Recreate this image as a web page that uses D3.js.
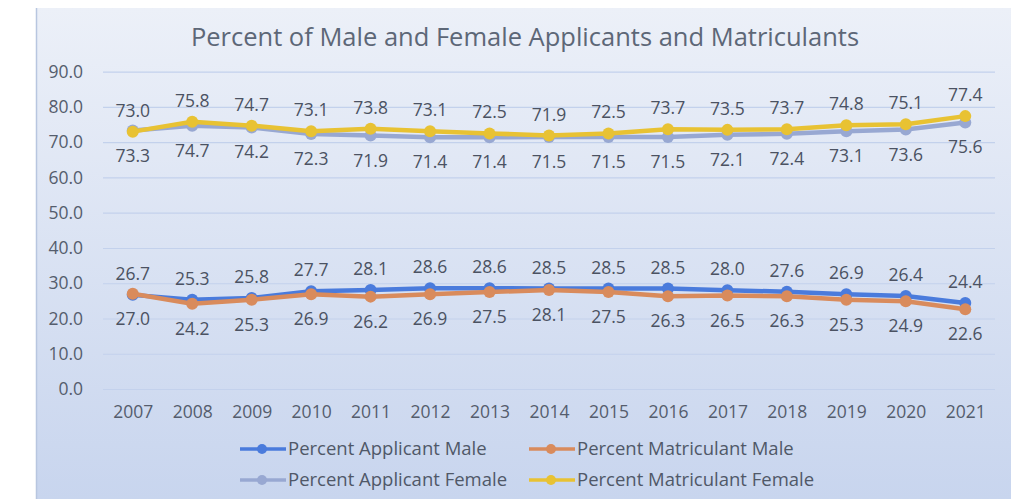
<!DOCTYPE html>
<html>
<head>
<meta charset="utf-8">
<script src="https://cdn.jsdelivr.net/npm/d3@7"></script>
<style>
  body { margin: 0; background: #fff; }
  svg { display: block; font-family: "Open Sans", sans-serif; }
</style>
</head>
<body>
<svg width="1019" height="499"></svg>
<script>
var years = ["2007","2008","2009","2010","2011","2012","2013","2014","2015","2016","2017","2018","2019","2020","2021"];
var appMale = [26.7,25.3,25.8,27.7,28.1,28.6,28.6,28.5,28.5,28.5,28.0,27.6,26.9,26.4,24.4];
var matMale = [27.0,24.2,25.3,26.9,26.2,26.9,27.5,28.1,27.5,26.3,26.5,26.3,25.3,24.9,22.6];
var appFemale = [73.3,74.7,74.2,72.3,71.9,71.4,71.4,71.5,71.5,71.5,72.1,72.4,73.1,73.6,75.6];
var matFemale = [73.0,75.8,74.7,73.1,73.8,73.1,72.5,71.9,72.5,73.7,73.5,73.7,74.8,75.1,77.4];
var yTicks = [0,10,20,30,40,50,60,70,80,90];

var series = [
  {name: "Percent Applicant Male", values: appMale, color: "#4a7bdc", label: "above"},
  {name: "Percent Matriculant Male", values: matMale, color: "#d98b5c", label: "below"},
  {name: "Percent Applicant Female", values: appFemale, color: "#98a8d2", label: "below"},
  {name: "Percent Matriculant Female", values: matFemale, color: "#e8c233", label: "above"}
];

var svg = d3.select("svg");

var defs = svg.append("defs");
var grad = defs.append("linearGradient").attr("id", "bg")
  .attr("x1", 0).attr("y1", 0).attr("x2", 0).attr("y2", 1);
grad.append("stop").attr("offset", "0%").attr("stop-color", "#ecf0f8");
grad.append("stop").attr("offset", "100%").attr("stop-color", "#c8d5ee");

svg.append("rect")
  .attr("x", 36).attr("y", 8)
  .attr("width", 975).attr("height", 491)
  .attr("fill", "url(#bg)");
svg.append("line")
  .attr("x1", 36.5).attr("x2", 36.5).attr("y1", 8).attr("y2", 499)
  .attr("stroke", "#b8c6e0").attr("stroke-width", 1.5);

var x = d3.scalePoint().domain(years).range([103, 995]).padding(0.5);
var y = d3.scaleLinear().domain([0, 90]).range([389, 71.7]);

// title
svg.append("text")
  .attr("x", 525).attr("y", 46)
  .attr("text-anchor", "middle")
  .attr("fill", "#5d6777")
  .style("font-size", "25.5px")
  .text("Percent of Male and Female Applicants and Matriculants");

// grid + y axis
var yAxis = svg.append("g")
  .attr("transform", "translate(103,0)")
  .call(d3.axisLeft(y).tickValues(yTicks).tickSize(-892).tickPadding(20)
    .tickFormat(d3.format(".1f")));
yAxis.select(".domain").remove();
yAxis.selectAll(".tick line").attr("stroke", "#c3d1ec").attr("stroke-width", 1.2);
yAxis.selectAll(".tick text")
  .attr("fill", "#555d6d")
  .style("font-size", "17.5px")
  .style("font-family", "Open Sans, sans-serif");

// x axis
var xAxis = svg.append("g")
  .attr("transform", "translate(0,389)")
  .call(d3.axisBottom(x).tickSize(0).tickPadding(17));
xAxis.select(".domain").remove();
xAxis.selectAll(".tick text")
  .attr("fill", "#555d6d")
  .style("font-size", "17.5px")
  .style("font-family", "Open Sans, sans-serif");

var line = d3.line()
  .x(function(d, i) { return x(years[i]); })
  .y(function(d) { return y(d); });

series.forEach(function(s) {
  svg.append("path")
    .datum(s.values)
    .attr("fill", "none")
    .attr("stroke", s.color)
    .attr("stroke-width", 4.5)
    .attr("stroke-linejoin", "round")
    .attr("d", line);
  svg.selectAll(null)
    .data(s.values)
    .enter().append("circle")
    .attr("cx", function(d, i) { return x(years[i]); })
    .attr("cy", function(d) { return y(d); })
    .attr("r", 6)
    .attr("fill", s.color);
});

series.forEach(function(s) {
  svg.selectAll(null)
    .data(s.values)
    .enter().append("text")
    .attr("x", function(d, i) { return x(years[i]); })
    .attr("y", function(d) { return y(d) + (s.label == "above" ? -15 : 31); })
    .attr("text-anchor", "middle")
    .attr("fill", "#4b5262")
    .style("font-size", "17.5px")
    .text(function(d) { return d.toFixed(1); });
});

// legend
var legend = [
  {s: series[0], x: 240, y: 449},
  {s: series[1], x: 529, y: 449},
  {s: series[2], x: 240, y: 480},
  {s: series[3], x: 529, y: 480}
];
legend.forEach(function(l) {
  var g = svg.append("g").attr("transform", "translate(" + l.x + "," + l.y + ")");
  g.append("line").attr("x1", 0).attr("x2", 46).attr("y1", 0).attr("y2", 0)
    .attr("stroke", l.s.color).attr("stroke-width", 3.5);
  g.append("circle").attr("cx", 22).attr("cy", 0).attr("r", 5).attr("fill", l.s.color);
  g.append("text").attr("x", 48).attr("y", 6)
    .attr("fill", "#505868")
    .style("font-size", "18.5px")
    .text(l.s.name);
});
</script>
</body>
</html>
